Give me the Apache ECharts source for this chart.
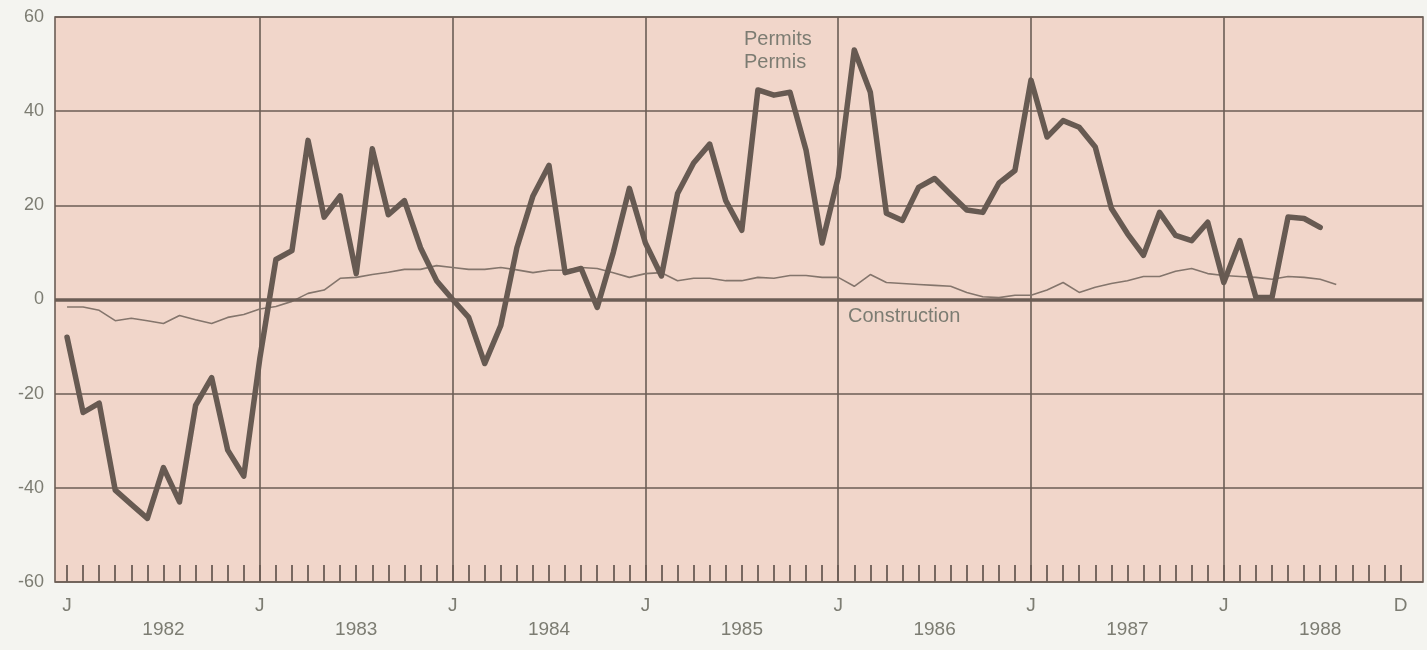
<!DOCTYPE html>
<html>
<head>
<meta charset="utf-8">
<script src="https://cdn.jsdelivr.net/npm/echarts@6/dist/echarts.min.js"></script>
<style>
html,body{margin:0;padding:0;background:#f4f4f0;}
#chart{width:1427px;height:650px;}
</style>
</head>
<body>
<div id="chart"></div>
<script>
// Month index 0 = January 1982 ... 83 = December 1988
const permits = [
  -8, -24, -22, -40.5, -43.5, -46.5, -35.7, -43, -22.5, -16.6, -32, -37.5,
  -12.5, 8.5, 10.4, 33.8, 17.5, 22, 5.5, 32, 18, 21, 11, 4,
  0, -3.8, -13.6, -5.5, 11, 22, 28.5, 5.7, 6.6, -1.7, 10, 23.6,
  12, 5, 22.5, 29, 33, 21, 14.7, 44.5, 43.4, 44, 31.7, 12,
  26, 53, 44, 18.3, 16.8, 23.8, 25.7, 22.3, 19, 18.5, 24.7, 27.4,
  46.6, 34.5, 38, 36.6, 32.4, 19.4, 14, 9.4, 18.5, 13.6, 12.5, 16.4,
  3.6, 12.5, 0.4, 0.4, 17.5, 17.2, 15.3
];
const construction = [
  -1.6, -1.6, -2.3, -4.5, -4, -4.5, -5.1, -3.4, -4.3, -5.1, -3.8, -3.2,
  -2, -1.5, -0.4, 1.3, 2, 4.5, 4.7, 5.3, 5.8, 6.4, 6.4, 7.2,
  6.8, 6.4, 6.4, 6.8, 6.3, 5.7, 6.2, 6.2, 6.8, 6.6, 5.7, 4.7,
  5.5, 5.7, 4, 4.5, 4.5, 4, 4, 4.7, 4.5, 5.1, 5.1, 4.7,
  4.7, 2.8, 5.3, 3.6, 3.4, 3.2, 3, 2.8, 1.5, 0.6, 0.4, 0.9,
  0.9, 2, 3.6, 1.5, 2.6, 3.4, 4, 4.9, 4.9, 6, 6.6, 5.5,
  5.1, 4.9, 4.7, 4.3, 4.9, 4.7, 4.3, 3.2
];
const years = ['1982', '1983', '1984', '1985', '1986', '1987', '1988'];
const monthTickLabels = { 0: 'J', 12: 'J', 24: 'J', 36: 'J', 48: 'J', 60: 'J', 72: 'J', 83: 'D' };
const yTicks = [-60, -40, -20, 0, 20, 40, 60];

const monthTicks = [];
for (let m = 0; m < 84; m++) monthTicks.push(m);
const yearStarts = years.slice(1).map((y, i) => (i + 1) * 12);
const yearMids = years.map((y, i) => i * 12 + 6);

const ink = '#6b5d55';
const textCol = '#7c7c72';
const font = 'Liberation Sans, Arial, sans-serif';

const chart = echarts.init(document.getElementById('chart'), null, { renderer: 'canvas' });
chart.setOption({
  backgroundColor: '#f4f4f0',
  animation: false,
  grid: {
    left: 55, right: 4, top: 17, bottom: 68,
    show: true, backgroundColor: '#f1d6ca',
    borderColor: ink, borderWidth: 1.6
  },
  xAxis: [
    {
      type: 'value', min: -0.75, max: 84.4,
      axisLine: { show: false, onZero: false },
      splitLine: { show: false },
      axisTick: { show: true, inside: true, length: 17, customValues: monthTicks,
                  lineStyle: { color: ink, width: 1.8 } },
      axisLabel: { customValues: Object.keys(monthTickLabels).map(Number),
                   formatter: v => monthTickLabels[Math.round(v)] || '',
                   margin: 14, color: textCol, fontSize: 19,
                   fontFamily: font, hideOverlap: false }
    },
    {
      type: 'value', min: -0.75, max: 84.4, position: 'bottom',
      axisLine: { show: false, onZero: false },
      axisTick: { show: false, customValues: yearStarts },
      splitLine: { show: true, lineStyle: { color: ink, width: 1.6 } },
      axisLabel: { customValues: yearMids,
                   formatter: v => years[Math.round((v - 6) / 12)] || '',
                   margin: 38, color: textCol, fontSize: 19,
                   fontFamily: font, hideOverlap: false }
    }
  ],
  yAxis: {
    type: 'value', min: -60, max: 60, interval: 20,
    axisLine: { show: false },
    axisTick: { show: false },
    splitLine: { show: true, lineStyle: { color: ink, width: 1.6 } },
    axisLabel: { margin: 11, color: textCol, fontSize: 18, fontFamily: font }
  },
  series: [
    {
      name: 'Construction', type: 'line', xAxisIndex: 0,
      data: construction.map((v, i) => [i, v]),
      showSymbol: false, silent: true,
      lineStyle: { color: '#84756c', width: 1.6 },
      markLine: {
        silent: true, symbol: 'none', label: { show: false },
        lineStyle: { color: ink, width: 3.5, type: 'solid' },
        data: [{ yAxis: 0 }]
      },
      z: 3
    },
    {
      name: 'Permits', type: 'line', xAxisIndex: 0,
      data: permits.map((v, i) => [i, v]),
      showSymbol: false, silent: true,
      lineStyle: { color: '#675a52', width: 5.5, join: 'round', cap: 'round' },
      z: 4
    }
  ],
  graphic: [
    { type: 'text', left: 744, top: 29,
      style: { text: 'Permits', fill: textCol, fontSize: 20, fontFamily: font } },
    { type: 'text', left: 744, top: 52,
      style: { text: 'Permis', fill: textCol, fontSize: 20, fontFamily: font } },
    { type: 'text', left: 848, top: 306,
      style: { text: 'Construction', fill: textCol, fontSize: 20, fontFamily: font } }
  ]
});
</script>
</body>
</html>
